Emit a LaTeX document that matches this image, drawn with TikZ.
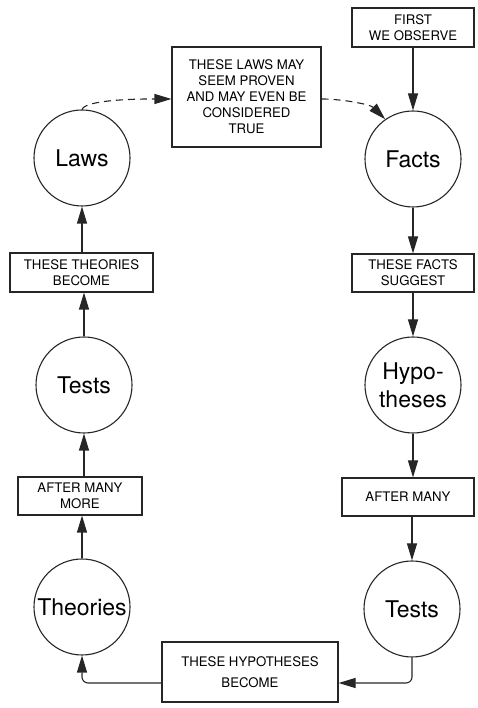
\documentclass[tikz,border=0pt]{standalone}
\usepackage{fontspec}
\setmainfont{TeX Gyre Heros}
\usetikzlibrary{arrows.meta,positioning,calc}

\begin{document}
\begin{tikzpicture}[x=1pt,y=1pt,
    lbl/.style={draw=black!85,line width=1.1pt,align=center,inner sep=0pt,
      font=\fontsize{13.2}{16}\selectfont},
    stage/.style={draw=black!85,line width=1.1pt,circle,minimum size=96pt,
      inner sep=0pt,align=center,font=\fontsize{23}{28}\selectfont},
    arr/.style={draw=black!85,line width=1.1pt,
      -{Triangle[length=17pt,width=10pt]}},
    darr/.style={arr,dash pattern=on 7pt off 5pt}]
  \useasboundingbox (0,0) rectangle (478,708);
  % ---- right column ----
  \node[lbl,minimum width=122pt,minimum height=39pt] (observe)
      at (413,680.5) {FIRST\\WE OBSERVE};
  \node[stage] (facts) at (413,549) {Facts};
  \node[lbl,minimum width=122pt,minimum height=38pt] (suggest)
      at (413,435) {THESE FACTS\\SUGGEST};
  \node[stage] (hypo) at (413,323) {Hypo-\\theses};
  \node[lbl,minimum width=132pt,minimum height=38pt] (manytests)
      at (408,211) {AFTER MANY};
  \node[stage] (testsR) at (412,99) {Tests};
  % ---- bottom box ----
  \node[lbl,minimum width=176pt,minimum height=60pt,
      font=\fontsize{13.2}{21}\selectfont] (hypobox)
      at (250,36) {THESE HYPOTHESES\\BECOME};
  % ---- left column ----
  \node[stage] (theories) at (82,101) {Theories};
  \node[lbl,minimum width=124pt,minimum height=38pt] (moretests)
      at (80,212) {AFTER MANY\\MORE};
  \node[stage] (testsL) at (84,323) {Tests};
  \node[lbl,minimum width=143pt,minimum height=39pt] (becomelaws)
      at (81.5,435.5) {THESE THEORIES\\BECOME};
  \node[stage] (laws) at (82,550) {Laws};
  % ---- top box ----
  \node[lbl,minimum width=149pt,minimum height=100pt] (lawsbox)
      at (246.5,611) {THESE LAWS MAY\\SEEM PROVEN\\AND MAY EVEN BE\\CONSIDERED\\TRUE};
  % ---- arrows down the right ----
  \draw[arr] (observe) -- (observe |- facts.north);
  \draw[arr] (facts) -- (facts |- suggest.north);
  \draw[arr] (suggest) -- (suggest |- hypo.north);
  \draw[arr] (hypo) -- (hypo |- manytests.north);
  \draw[arr] (manytests.south -| testsR) -- (testsR);
  % ---- along the bottom ----
  \draw[arr,rounded corners=6pt] (testsR.south) |- ([yshift=-11pt]hypobox.east);
  \draw[arr,rounded corners=6pt] ([yshift=-11pt]hypobox.west) -| (theories.south);
  % ---- arrows up the left ----
  \draw[arr] (theories) -- (theories |- moretests.south);
  \draw[arr] (moretests.north -| testsL) -- (testsL);
  \draw[arr] (testsL) -- (testsL |- becomelaws.south);
  \draw[arr] (becomelaws.north -| laws) -- (laws);
  % ---- dashed return ----
  \draw[darr] (laws.north) to[out=70,in=180,looseness=0.35] ([yshift=-2pt]lawsbox.west);
  \draw[darr] ([yshift=-2pt]lawsbox.east) to[out=0,in=135,looseness=0.8] (facts.125);
\end{tikzpicture}
\end{document}
